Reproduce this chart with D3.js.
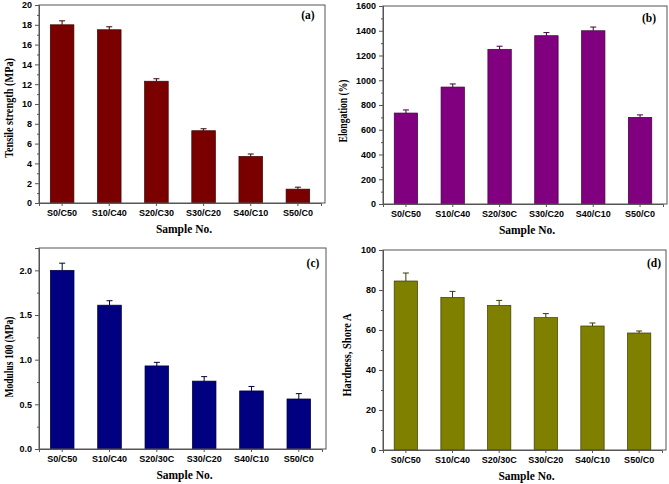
<!DOCTYPE html>
<meta charset="utf-8">
<script src="https://d3js.org/d3.v7.min.js"></script>
<style>
  body { margin: 0; background: #fff; }
  .tick text { font-family: "Liberation Sans", Arial, sans-serif; font-weight: bold; font-size: 9px; fill: #000; }
  .title { font-family: "Liberation Serif", "Times New Roman", serif; font-weight: bold; font-size: 11.5px; fill: #000; }
</style>
<svg width="669" height="484"></svg>
<script>
// categories
var samplesA = ["S0/C50", "S10/C40", "S20/C30", "S30/C20", "S40/C10", "S50/C0"];
var samplesB = ["S0/C50", "S10/C40", "S20/30C", "S30/C20", "S40/C10", "S50/C0"];

// (a) tensile strength
var tensile = [18.0, 17.5, 12.3, 7.3, 4.7, 1.4];
var tensileErr = [0.4, 0.3, 0.25, 0.2, 0.25, 0.2];
// (b) elongation
var elongation = [735, 945, 1250, 1360, 1400, 700];
var elongationErr = [25, 25, 25, 25, 30, 20];
// (c) modulus 100
var modulus = [2.0, 1.61, 0.93, 0.76, 0.65, 0.56];
var modulusErr = [0.08, 0.05, 0.04, 0.05, 0.05, 0.06];
// (d) hardness
var hardness = [84.5, 76.3, 72.3, 66.2, 62.0, 58.5];
var hardnessErr = [4, 3, 2.5, 2, 1.5, 1];

var svg = d3.select("svg");

var panels = [
  { cats: samplesA, vals: tensile, errs: tensileErr, ymax: 20, major: 2, fmt: d3.format("d"),
    ylabel: "Tensile strength (MPa)", ylen: 100, tag: "(a)", color: "#7a0000", dark: "#3a0000",
    box: { left: 39, right: 325, top: 5, bottom: 203 }, ylx: 9, yly: 108, tagx: 308, tagy: 19 },
  { cats: samplesB, vals: elongation, errs: elongationErr, ymax: 1600, major: 200, fmt: d3.format("d"),
    ylabel: "Elongation (%)", ylen: 63, tag: "(b)", color: "#800080", dark: "#3d003d",
    box: { left: 383, right: 667, top: 6, bottom: 204 }, ylx: 343, yly: 111, tagx: 649, tagy: 22 },
  { cats: samplesB, vals: modulus, errs: modulusErr, ymax: 2.25, major: 0.5, fmt: d3.format(".1f"),
    ylabel: "Modulus 100 (MPa)", ylen: 81, tag: "(c)", color: "#000080", dark: "#00003a",
    box: { left: 39, right: 326, top: 248, bottom: 449 }, ylx: 9, yly: 357, tagx: 313, tagy: 267 },
  { cats: samplesB, vals: hardness, errs: hardnessErr, ymax: 100, major: 20, fmt: d3.format("d"),
    ylabel: "Hardness, Shore A", ylen: 83, tag: "(d)", color: "#7f7f00", dark: "#3b3b00",
    box: { left: 383, right: 666, top: 250, bottom: 450 }, ylx: 347, yly: 355, tagx: 654, tagy: 267 }
];

panels.forEach(function (p) {
  var b = p.box;
  var x = d3.scaleBand().domain(p.cats).range([b.left, b.right - 4]).paddingInner(0.5).paddingOuter(0.24);
  var y = d3.scaleLinear().domain([0, p.ymax]).range([b.bottom, b.top]);
  var g = svg.append("g");

  var majors = d3.range(0, p.ymax + 1e-9, p.major);
  var minors = d3.range(p.major / 2, p.ymax + 1e-9, p.major);

  // bars
  g.selectAll("rect.bar")
    .data(p.vals)
    .enter().append("rect")
    .attr("class", "bar")
    .attr("x", function (d, i) { return x(p.cats[i]); })
    .attr("y", function (d) { return y(d); })
    .attr("width", x.bandwidth())
    .attr("height", function (d) { return y(0) - y(d); })
    .attr("fill", p.color)
    .attr("stroke", p.dark)
    .attr("stroke-width", 0.7);

  // error bars (upper half only)
  var eb = g.selectAll("g.err")
    .data(p.vals)
    .enter().append("g")
    .attr("stroke", p.dark)
    .attr("stroke-width", 1);
  eb.append("line")
    .attr("x1", function (d, i) { return x(p.cats[i]) + x.bandwidth() / 2; })
    .attr("x2", function (d, i) { return x(p.cats[i]) + x.bandwidth() / 2; })
    .attr("y1", function (d) { return y(d); })
    .attr("y2", function (d, i) { return y(d + p.errs[i]); });
  eb.append("line")
    .attr("x1", function (d, i) { return x(p.cats[i]) + x.bandwidth() / 2 - 3; })
    .attr("x2", function (d, i) { return x(p.cats[i]) + x.bandwidth() / 2 + 3; })
    .attr("y1", function (d, i) { return y(d + p.errs[i]); })
    .attr("y2", function (d, i) { return y(d + p.errs[i]); });

  // frame
  g.append("rect")
    .attr("x", b.left).attr("y", b.top)
    .attr("width", b.right - b.left).attr("height", b.bottom - b.top)
    .attr("fill", "none").attr("stroke", "#555").attr("stroke-width", 1);

  // y axis
  var ya = g.append("g")
    .attr("transform", "translate(" + b.left + ",0)")
    .call(d3.axisLeft(y).tickValues(majors).tickFormat(p.fmt).tickSize(4).tickPadding(3));
  ya.select(".domain").attr("stroke", "#555");
  ya.selectAll(".tick line").attr("stroke", "#555");
  g.append("g")
    .attr("transform", "translate(" + b.left + ",0)")
    .call(d3.axisLeft(y).tickValues(minors).tickFormat("").tickSize(2))
    .call(function (s) { s.select(".domain").remove(); s.selectAll("line").attr("stroke", "#555"); });

  // x axis
  var xa = g.append("g")
    .attr("transform", "translate(0," + b.bottom + ")")
    .call(d3.axisBottom(x).tickSize(3).tickPadding(4));
  xa.select(".domain").attr("stroke", "#555");
  xa.selectAll(".tick line").attr("stroke", "#555");

  // titles
  g.append("text").attr("class", "title")
    .attr("x", (b.left + b.right) / 2 + 2).attr("y", b.bottom + 30)
    .attr("text-anchor", "middle")
    .text("Sample No.");
  g.append("text").attr("class", "title")
    .attr("transform", "translate(" + p.ylx + "," + p.yly + ") rotate(-90)")
    .attr("dy", "0.35em")
    .attr("text-anchor", "middle")
    .attr("textLength", p.ylen)
    .attr("lengthAdjust", "spacingAndGlyphs")
    .text(p.ylabel);
  g.append("text").attr("class", "title")
    .attr("x", p.tagx).attr("y", p.tagy)
    .attr("text-anchor", "middle")
    .text(p.tag);
});
</script>
